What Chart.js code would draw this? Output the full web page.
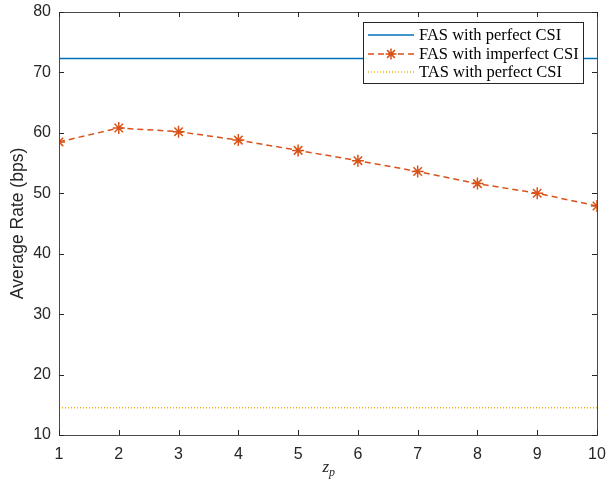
<!DOCTYPE html>
<html><head><meta charset="utf-8">
<script src="https://cdn.jsdelivr.net/npm/chart.js@4.4.0/dist/chart.umd.min.js"></script>
<style>html,body{margin:0;padding:0;background:#fff}#wrap{width:606px;height:484px}</style>
</head><body><div id="wrap"><canvas id="c" width="606" height="484"></canvas></div>
<script>
const zp = [1,2,3,4,5,6,7,8,9,10];
const fasPerfect = [72.3,72.3,72.3,72.3,72.3,72.3,72.3,72.3,72.3,72.3];
const fasImperfect = [58.5,60.8,60.2,58.8,57.1,55.4,53.6,51.6,50.0,47.9];
const tasPerfect = [14.5,14.5,14.5,14.5,14.5,14.5,14.5,14.5,14.5,14.5];
const xTicks = [1,2,3,4,5,6,7,8,9,10];
const yTicks = [10,20,30,40,50,60,70,80];
const labels = ['FAS with perfect CSI','FAS with imperfect CSI','TAS with perfect CSI'];

const toPts = (a) => zp.map((x,i)=>({x:x,y:a[i]}));
const axisColor = '#262626';

const boxPlugin = {
  id:'boxPlugin',
  afterDraw(chart){
    const ctx = chart.ctx, a = chart.chartArea;
    const xs = chart.scales.x, ys = chart.scales.y;
    ctx.save();
    ctx.strokeStyle = '#4a4a4a'; ctx.lineWidth = 1;
    ctx.strokeRect(Math.round(a.left)+0.5, Math.round(a.top)+0.5, Math.round(a.right-a.left), Math.round(a.bottom-a.top));
    ctx.strokeStyle = axisColor;
    ctx.beginPath();
    xTicks.forEach(v=>{
      const px = Math.round(xs.getPixelForValue(v))+0.5;
      ctx.moveTo(px,a.bottom); ctx.lineTo(px,a.bottom-5);
      ctx.moveTo(px,a.top); ctx.lineTo(px,a.top+5);
    });
    yTicks.forEach(v=>{
      const py = Math.round(ys.getPixelForValue(v))+0.5;
      ctx.moveTo(a.left,py); ctx.lineTo(a.left+5,py);
      ctx.moveTo(a.right,py); ctx.lineTo(a.right-5,py);
    });
    ctx.stroke();
    ctx.fillStyle = axisColor;
    ctx.textBaseline = 'alphabetic';
    const cx = (a.left+a.right)/2;
    ctx.font = 'italic 17px "Liberation Serif"';
    ctx.textAlign = 'right';
    ctx.fillText('z', cx+1, 472);
    ctx.font = 'italic 12px "Liberation Serif"';
    ctx.textAlign = 'left';
    ctx.fillText('p', cx+1, 476);
    // legend
    const lx = 363, ly = 22, lw = 220, lh = 61;
    ctx.fillStyle = '#fff';
    ctx.fillRect(lx,ly,lw,lh);
    ctx.strokeStyle = axisColor; ctx.lineWidth = 1;
    ctx.strokeRect(lx+0.5,ly+0.5,lw,lh);
    const rows = [35,54,72];
    chart.data.datasets.forEach((ds,i)=>{
      const y = rows[i];
      ctx.save();
      ctx.strokeStyle = ds.borderColor; ctx.lineWidth = ds.borderWidth;
      ctx.setLineDash(ds.borderDash || []);
      ctx.beginPath(); ctx.moveTo(368,y); ctx.lineTo(414,y); ctx.stroke();
      ctx.restore();
      if (ds.pointRadius > 0) {
        ctx.save();
        ctx.strokeStyle = ds.borderColor; ctx.lineWidth = 1.5;
        const r = 5.5, mx = 391;
        ctx.beginPath();
        for (let k=0;k<4;k++){
          const ang = k*Math.PI/4;
          ctx.moveTo(mx - r*Math.cos(ang), y - r*Math.sin(ang));
          ctx.lineTo(mx + r*Math.cos(ang), y + r*Math.sin(ang));
        }
        ctx.stroke();
        ctx.restore();
      }
      ctx.fillStyle = '#000';
      ctx.font = '16.5px "Liberation Serif"';
      ctx.textAlign = 'left'; ctx.textBaseline = 'middle';
      ctx.fillText(ds.label, 419, y+1);
    });
    ctx.restore();
  }
};

new Chart(document.getElementById('c'), {
  type:'line',
  data:{
    datasets:[
      {label:labels[0], data:toPts(fasPerfect), borderColor:'#0072BD', borderWidth:1.5, pointRadius:0, fill:false, tension:0},
      {label:labels[1], data:toPts(fasImperfect), borderColor:'#D95319', borderWidth:1.5, borderDash:[6,4], pointRadius:6, pointStyle:'star', pointBorderColor:'#D95319', pointBorderWidth:1.5, pointBackgroundColor:'#D95319', fill:false, tension:0},
      {label:labels[2], data:toPts(tasPerfect), borderColor:'#EDB120', borderWidth:1.5, borderDash:[1,2], pointRadius:0, fill:false, tension:0}
    ]
  },
  options:{
    responsive:false, animation:false, devicePixelRatio:1,
    layout:{padding:{top:12,right:9,left:0,bottom:0}},
    plugins:{legend:{display:false}, tooltip:{enabled:false}},
    scales:{
      x:{type:'linear', min:1, max:10,
        afterBuildTicks:(s)=>{s.ticks = xTicks.map(v=>({value:v}));},
        afterFit:(s)=>{s.height=49; s.paddingLeft=0; s.paddingRight=0;},
        grid:{display:false, drawTicks:false}, border:{display:false},
        ticks:{color:axisColor, font:{family:'"Liberation Sans", Arial', size:16}, padding:10, maxRotation:0}
      },
      y:{type:'linear', min:10, max:80,
        afterBuildTicks:(s)=>{s.ticks = yTicks.map(v=>({value:v}));},
        afterFit:(s)=>{s.width=59; s.paddingTop=0; s.paddingBottom=0;},
        grid:{display:false, drawTicks:false}, border:{display:false},
        ticks:{color:axisColor, font:{family:'"Liberation Sans", Arial', size:16}, padding:8},
        title:{display:true, text:'Average Rate (bps)', color:axisColor, font:{family:'"Liberation Sans", Arial', size:17.5}, padding:{top:8,bottom:0}}
      }
    }
  },
  plugins:[boxPlugin]
});
</script></body></html>
